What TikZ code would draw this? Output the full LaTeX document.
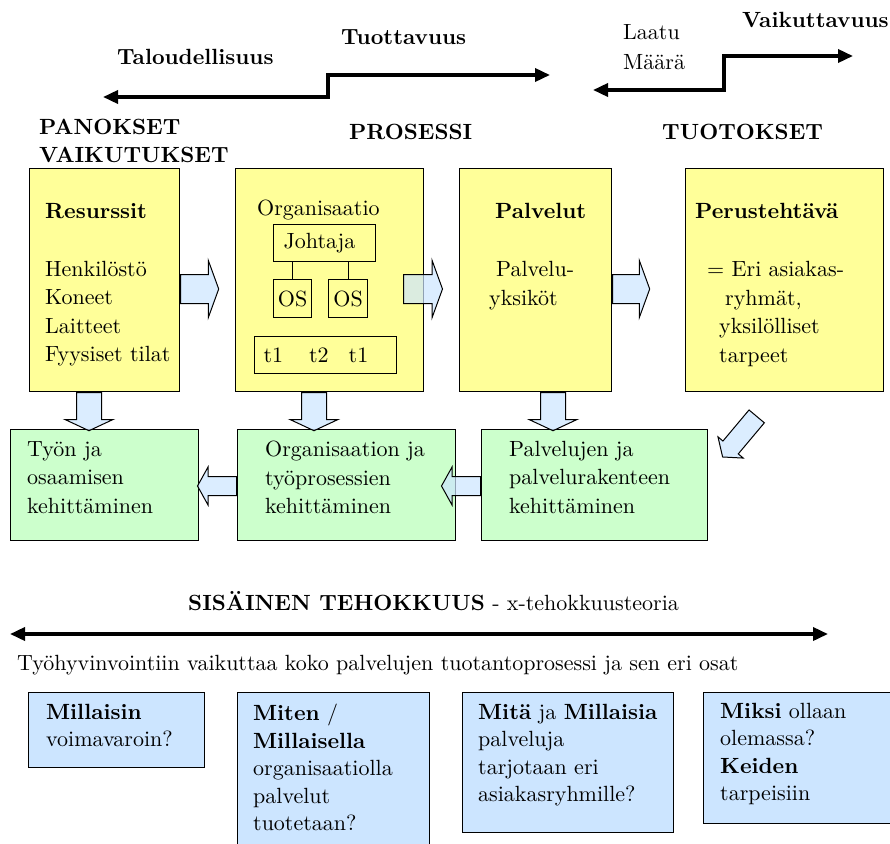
\documentclass[tikz,border=0pt]{standalone}
\usepackage{fontspec}
\setmainfont{lmroman10}[Extension=.otf,UprightFont=*-regular,BoldFont=*-bold]
\usetikzlibrary{positioning,shapes.arrows,arrows.meta}
\definecolor{ykeltainen}{HTML}{FFFF99}
\definecolor{vihrea}{HTML}{CCFFCC}
\definecolor{sininen}{HTML}{CCE5FF}

\begin{document}
\begin{tikzpicture}[
  x=1pt,y=-1pt,
  font=\fontsize{22}{28.5}\selectfont,
  every node/.style={inner sep=0pt},
  txt/.style={anchor=north west,align=left,execute at begin node=\strut},
  qtxt/.style={txt,font=\fontsize{22}{27.5}\selectfont},
  lbl/.style={anchor=base west},
  hdr/.style={anchor=base west,font=\fontsize{22}{28.5}\selectfont\bfseries},
  ybox/.style={draw,line width=1.2pt,fill=ykeltainen,minimum height=223pt},
  gbox/.style={draw,line width=1.2pt,fill=vihrea,anchor=north west,minimum height=111pt},
  bbox/.style={draw,line width=1.2pt,fill=sininen,anchor=north west},
  obox/.style={draw,line width=1.2pt,anchor=north west},
  steparrow/.style={line width=3.5pt,{Triangle[length=15pt,width=13pt]}-{Triangle[length=15pt,width=13pt]}},
  blockarrow/.style={single arrow,draw,line width=1pt,fill=sininen,fill opacity=0.7,anchor=tail},
  harrow/.style={blockarrow,inner sep=14pt,single arrow head extend=14pt,single arrow tip angle=140},
  varrow/.style={blockarrow,rotate=-90,minimum height=38pt,inner sep=12pt,single arrow head extend=11.5pt,single arrow tip angle=130},
  larrow/.style={blockarrow,rotate=180,minimum height=39pt,inner sep=9pt,single arrow head extend=9.5pt,single arrow tip angle=122}
]
\useasboundingbox (0,0) rectangle (890,843);

\node[hdr] (talous) at (117,64) {Taloudellisuus};
\node[hdr] (tuotta) at (341,45) {Tuottavuus};
\node[txt,font=\fontsize{22}{30}\selectfont] (laatu) at (623,24) {Laatu\\Määrä};
\node[hdr] (vaikut) at (742,28) {Vaikuttavuus};
\coordinate (talL) at (103,97);
\coordinate (talM) at (328,75);
\coordinate (tuoR) at (550,75);
\coordinate (laaL) at (593,90);
\coordinate (laaM) at (724,56);
\coordinate (vaiR) at (853,56);
\draw[steparrow] (talL) -| (talM) -- (tuoR);
\draw[steparrow] (laaL) -| (laaM) -- (vaiR);

\node[txt,font=\fontsize{22}{28}\selectfont\bfseries] (panos) at (39,119) {PANOKSET\\VAIKUTUKSET};
\node[hdr] (prosessi) at (349,139) {PROSESSI};
\node[hdr] (tuotokset) at (662,139) {TUOTOKSET};

\node[ybox,minimum width=150pt,anchor=north west] (resurssit) at (29,168) {};
\node[ybox,minimum width=188pt,right=54.8pt of resurssit] (organis) {};
\node[ybox,minimum width=152pt,right=34.8pt of organis] (palvelut) {};
\node[ybox,minimum width=198pt,right=72.8pt of palvelut] (perus) {};

\node[txt] (restxt) at (45,203) {\textbf{Resurssit}\\[29.5pt]Henkilöstö\\Koneet\\Laitteet\\Fyysiset tilat};
\node[lbl] (orgtxt) at (257,215) {Organisaatio};
\node[obox,minimum height=37pt,text width=82pt,inner xsep=10pt,align=left] (johtaja) at (273,224) {Johtaja};
\node[obox,minimum width=38pt,minimum height=38pt] (os1) at (273,279) {OS};
\node[obox,minimum width=39pt,minimum height=38pt] (os2) at (328,279) {OS};
\draw[line width=1.2pt] (os1.north) -- (os1.north |- johtaja.south) (os2.north) -- (os2.north |- johtaja.south);
\node[obox,minimum height=37pt,text width=124pt,inner xsep=9pt,align=left] (tyot) at (254,336) {t1\hspace{26pt}t2\hspace{20pt}t1};
\node[txt] (palvtxt) at (489,203) {\hspace*{6pt}\textbf{Palvelut}\\[30pt]\hspace*{7pt}Palvelu-\\yksiköt};
\node[txt] (perustxt) at (695,203) {\textbf{Perustehtävä}\\[30pt]\hspace*{12pt}= Eri asiakas-\\\hspace*{30pt}ryhmät,\\\hspace*{24pt}yksilölliset\\\hspace*{24pt}tarpeet};

\node[gbox,minimum width=188pt] (tyon) at (10,429) {};
\node[gbox,minimum width=218pt] (orgkeh) at (237,429) {};
\node[gbox,minimum width=226pt] (palvkeh) at (481,429) {};
\node[txt] (tyontxt) at (27,441) {Työn ja\\osaamisen\\kehittäminen};
\node[txt] (orgkehtxt) at (265,441) {Organisaation ja\\työprosessien\\kehittäminen};
\node[txt] (palvkehtxt) at (509,441) {Palvelujen ja\\palvelurakenteen\\kehittäminen};

\node[harrow,minimum height=38pt] (n12) at (resurssit.east |- 0,289) {};
\node[harrow,minimum height=39pt] (n23) at (403,289) {};
\node[harrow,minimum height=37pt] (n34) at (palvelut.east |- 0,289) {};
\node[varrow] (d1) at (resurssit.south -| 89,0) {};
\node[varrow] (d2) at (organis.south -| 314,0) {};
\node[varrow] (d3) at (palvelut.south -| 553,0) {};
\node[blockarrow,rotate=230,minimum height=53pt,inner sep=9.5pt,single arrow head extend=6.5pt,single arrow tip angle=106] (vino) at (757,416) {};
\node[larrow] (l21) at (orgkeh.west |- 0,486) {};
\node[larrow] (l32) at (palvkeh.west |- 0,486) {};

\node[lbl] (sisainen) at (188,610) {\textbf{SISÄINEN TEHOKKUUS} - x-tehokkuusteoria};
\coordinate (tehoL) at (10,634);
\coordinate (tehoR) at (828,634);
\draw[steparrow] (tehoL) -- (tehoR);
\node[lbl] (hyvinv) at (17,670) {Työhyvinvointiin vaikuttaa koko palvelujen tuotantoprosessi ja sen eri osat};

\node[bbox,minimum width=176pt,minimum height=75pt] (voimavarat) at (28,692) {};
\node[bbox,minimum width=192pt,minimum height=160pt] (miten) at (237,692) {};
\node[bbox,minimum width=211pt,minimum height=140pt] (mita) at (462,692) {};
\node[bbox,minimum width=192pt,minimum height=131pt] (miksi) at (703,692) {};
\node[qtxt] (voimatxt) at (46,704) {\textbf{Millaisin}\\voimavaroin?};
\node[qtxt] (mitentxt) at (253,704) {\textbf{Miten} /\\\textbf{Millaisella}\\organisaatiolla\\palvelut\\tuotetaan?};
\node[qtxt] (mitatxt) at (478,704) {\textbf{Mitä} ja \textbf{Millaisia}\\palveluja\\tarjotaan eri\\asiakasryhmille?};
\node[qtxt] (miksitxt) at (720,703) {\textbf{Miksi} ollaan\\olemassa?\\\textbf{Keiden}\\tarpeisiin};
\end{tikzpicture}
\end{document}
